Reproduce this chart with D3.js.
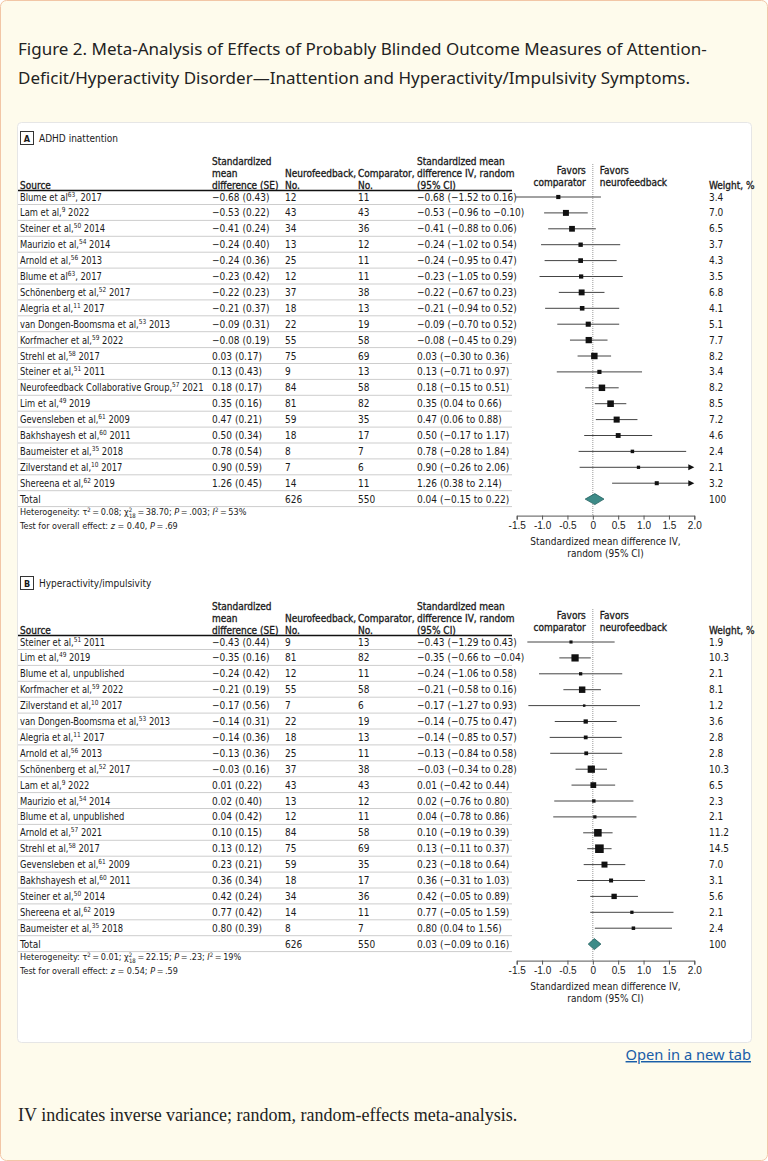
<!DOCTYPE html>
<html>
<head>
<meta charset="utf-8">
<script src="https://cdn.jsdelivr.net/npm/d3@7"></script>
<style>
  html, body { margin: 0; padding: 0; background: #fff; }
  svg { display: block; }
  .tbl { font-family: "Liberation Sans Narrow", "DejaVu Sans Condensed", "DejaVu Sans", sans-serif; font-stretch: condensed; font-size: 10px; fill: #1a1a1a; }
  .hdr { stroke: #1a1a1a; stroke-width: 0.3px; }
</style>
</head>
<body>
<svg width="768" height="1161"></svg>
<script>
// ---- data: panel A, ADHD inattention ----
const srcA = [
  ["Blume et al", "63", ", 2017"], ["Lam et al,", "9", " 2022"], ["Steiner et al,", "50", " 2014"],
  ["Maurizio et al,", "54", " 2014"], ["Arnold et al,", "56", " 2013"], ["Blume et al", "63", ", 2017"],
  ["Schönenberg et al,", "52", " 2017"], ["Alegria et al,", "11", " 2017"], ["van Dongen-Boomsma et al,", "53", " 2013"],
  ["Korfmacher et al,", "59", " 2022"], ["Strehl et al,", "58", " 2017"], ["Steiner et al,", "51", " 2011"],
  ["Neurofeedback Collaborative Group,", "57", " 2021"], ["Lim et al,", "49", " 2019"], ["Gevensleben et al,", "61", " 2009"],
  ["Bakhshayesh et al,", "60", " 2011"], ["Baumeister et al,", "35", " 2018"], ["Zilverstand et al,", "10", " 2017"],
  ["Shereena et al,", "62", " 2019"]
];
const smdA = [-0.68, -0.53, -0.41, -0.24, -0.24, -0.23, -0.22, -0.21, -0.09, -0.08, 0.03, 0.13, 0.18, 0.35, 0.47, 0.50, 0.78, 0.90, 1.26];
const seA = [0.43, 0.22, 0.24, 0.40, 0.36, 0.42, 0.23, 0.37, 0.31, 0.19, 0.17, 0.43, 0.17, 0.16, 0.21, 0.34, 0.54, 0.59, 0.45];
const nfA = [12, 43, 34, 13, 25, 12, 37, 18, 22, 55, 75, 9, 84, 81, 59, 18, 8, 7, 14];
const cmpA = [11, 43, 36, 12, 11, 11, 38, 13, 19, 58, 69, 13, 58, 82, 35, 17, 7, 6, 11];
const loA = [-1.52, -0.96, -0.88, -1.02, -0.95, -1.05, -0.67, -0.94, -0.70, -0.45, -0.30, -0.71, -0.15, 0.04, 0.06, -0.17, -0.28, -0.26, 0.38];
const hiA = [0.16, -0.10, 0.06, 0.54, 0.47, 0.59, 0.23, 0.52, 0.52, 0.29, 0.36, 0.97, 0.51, 0.66, 0.88, 1.17, 1.84, 2.06, 2.14];
const wA = [3.4, 7.0, 6.5, 3.7, 4.3, 3.5, 6.8, 4.1, 5.1, 7.7, 8.2, 3.4, 8.2, 8.5, 7.2, 4.6, 2.4, 2.1, 3.2];
const totalA = {nf: 626, cmp: 550, est: 0.04, lo: -0.15, hi: 0.22, w: 100};
const statsA = {tau2: "0.08", chi2: "38.70", df: "18", p: ".003", i2: "53%", z: "0.40", pz: ".69", sep: ","};

// ---- data: panel B, hyperactivity/impulsivity ----
const srcB = [
  ["Steiner et al,", "51", " 2011"], ["Lim et al,", "49", " 2019"], ["Blume et al, unpublished", "", ""],
  ["Korfmacher et al,", "59", " 2022"], ["Zilverstand et al,", "10", " 2017"], ["van Dongen-Boomsma et al,", "53", " 2013"],
  ["Alegria et al,", "11", " 2017"], ["Arnold et al,", "56", " 2013"], ["Schönenberg et al,", "52", " 2017"],
  ["Lam et al,", "9", " 2022"], ["Maurizio et al,", "54", " 2014"], ["Blume et al, unpublished", "", ""],
  ["Arnold et al,", "57", " 2021"], ["Strehl et al,", "58", " 2017"], ["Gevensleben et al,", "61", " 2009"],
  ["Bakhshayesh et al,", "60", " 2011"], ["Steiner et al,", "50", " 2014"], ["Shereena et al,", "62", " 2019"],
  ["Baumeister et al,", "35", " 2018"]
];
const smdB = [-0.43, -0.35, -0.24, -0.21, -0.17, -0.14, -0.14, -0.13, -0.03, 0.01, 0.02, 0.04, 0.10, 0.13, 0.23, 0.36, 0.42, 0.77, 0.80];
const seB = [0.44, 0.16, 0.42, 0.19, 0.56, 0.31, 0.36, 0.36, 0.16, 0.22, 0.40, 0.42, 0.15, 0.12, 0.21, 0.34, 0.24, 0.42, 0.39];
const nfB = [9, 81, 12, 55, 7, 22, 18, 25, 37, 43, 13, 12, 84, 75, 59, 18, 34, 14, 8];
const cmpB = [13, 82, 11, 58, 6, 19, 13, 11, 38, 43, 12, 11, 58, 69, 35, 17, 36, 11, 7];
const loB = [-1.29, -0.66, -1.06, -0.58, -1.27, -0.75, -0.85, -0.84, -0.34, -0.42, -0.76, -0.78, -0.19, -0.11, -0.18, -0.31, -0.05, -0.05, 0.04];
const hiB = [0.43, -0.04, 0.58, 0.16, 0.93, 0.47, 0.57, 0.58, 0.28, 0.44, 0.80, 0.86, 0.39, 0.37, 0.64, 1.03, 0.89, 1.59, 1.56];
const wB = [1.9, 10.3, 2.1, 8.1, 1.2, 3.6, 2.8, 2.8, 10.3, 6.5, 2.3, 2.1, 11.2, 14.5, 7.0, 3.1, 5.6, 2.1, 2.4];
const totalB = {nf: 626, cmp: 550, est: 0.03, lo: -0.09, hi: 0.16, w: 100};
const statsB = {tau2: "0.01", chi2: "22.15", df: "18", p: ".23", i2: "19%", z: "0.54", pz: ".59", sep: ";"};

const xTicks = [-1.5, -1.0, -0.5, 0, 0.5, 1.0, 1.5, 2.0];

const svg = d3.select("svg");

// page frame
svg.append("rect").attr("x", 0.5).attr("y", 0.5).attr("width", 767).attr("height", 1160)
  .attr("rx", 6).attr("fill", "#fefbec").attr("stroke", "#f2c6a6");

const titleFont = "'Noto Sans', 'Open Sans', sans-serif";
svg.append("text").attr("x", 18).attr("y", 55).attr("font-family", titleFont).attr("font-size", 17).attr("fill", "#222")
  .text("Figure 2. Meta-Analysis of Effects of Probably Blinded Outcome Measures of Attention-");
svg.append("text").attr("x", 18).attr("y", 84).attr("font-family", titleFont).attr("font-size", 17).attr("fill", "#222")
  .text("Deficit/Hyperactivity Disorder—Inattention and Hyperactivity/Impulsivity Symptoms.");

// white figure box
svg.append("rect").attr("x", 17.5).attr("y", 122.5).attr("width", 734).attr("height", 920)
  .attr("rx", 4).attr("fill", "#fff").attr("stroke", "#e6e6e6");

const x = d3.scaleLinear().domain([-1.5, 2.0]).range([516.7, 694.3]);
const size = d3.scaleSqrt().domain([0, 14.5]).range([0, 8.6]);
const fmt2 = d3.format(".2f");
const col = {src: 20, smd: 212, nf: 285, cmp: 358, ci: 417, w: 709, lineEnd: 512};
const thin = "\u2009";

function ciText(e, l, h) { return fmt2(e) + " (" + fmt2(l) + " to " + fmt2(h) + ")"; }

function drawPanel(top, letter, label, src, smd, se, nf, cmp, lo, hi, w, total, st) {
  const g = svg.append("g").attr("class", "tbl");
  const first = top + 59, step = 15.9;
  const y = d3.scaleLinear().domain([0, 1]).range([first, first + step]);
  const n = src.length;
  const yTot = y(n);

  // panel label
  g.append("rect").attr("x", 20.5).attr("y", top - 6.5).attr("width", 13).attr("height", 13)
    .attr("fill", "#fff").attr("stroke", "#333");
  g.append("text").attr("x", 27).attr("y", top + 3.5).attr("text-anchor", "middle")
    .attr("font-size", 9).attr("font-weight", "bold").text(letter);
  g.append("text").attr("x", 39).attr("y", top + 3.5).text(label);

  // column headers
  const h1 = top + 23, h2 = top + 35, h3 = top + 47;
  const heads = [
    [col.src, [[h3, "Source"]]],
    [col.smd, [[h1, "Standardized"], [h2, "mean"], [h3, "difference (SE)"]]],
    [col.nf, [[h2, "Neurofeedback,"], [h3, "No."]]],
    [col.cmp, [[h2, "Comparator,"], [h3, "No."]]],
    [col.ci, [[h1, "Standardized mean"], [h2, "difference IV, random"], [h3, "(95% CI)"]]],
    [col.w, [[h3, "Weight, %"]]]
  ];
  heads.forEach(([cx, lines]) => lines.forEach(([ly, t]) =>
    g.append("text").attr("class", "hdr").attr("x", cx).attr("y", ly + 3.5).text(t)));
  g.append("text").attr("class", "hdr").attr("x", x(0) - 7).attr("y", top + 35.5).attr("text-anchor", "end").text("Favors");
  g.append("text").attr("class", "hdr").attr("x", x(0) - 7).attr("y", top + 47.5).attr("text-anchor", "end").text("comparator");
  g.append("text").attr("class", "hdr").attr("x", x(0) + 7).attr("y", top + 35.5).text("Favors");
  g.append("text").attr("class", "hdr").attr("x", x(0) + 7).attr("y", top + 47.5).text("neurofeedback");

  // rules
  g.append("line").attr("x1", 18).attr("x2", col.lineEnd).attr("y1", top + 52.5).attr("y2", top + 52.5)
    .attr("stroke", "#111").attr("stroke-width", 1.4);
  g.selectAll(".sep").data(d3.range(n + 1)).join("line").attr("class", "sep")
    .attr("x1", 18).attr("x2", col.lineEnd)
    .attr("y1", d => y(d) + 7.5).attr("y2", d => y(d) + 7.5)
    .attr("stroke", "#cdcdcd");

  // zero line
  const axisY = yTot + 16.5;
  g.append("line").attr("x1", x(0)).attr("x2", x(0)).attr("y1", top + 26).attr("y2", axisY)
    .attr("stroke", "#999").attr("stroke-dasharray", "1,1");

  // rows
  const rows = g.selectAll(".row").data(d3.range(n)).join("g").attr("class", "row");
  // source names squeezed a little, the original face is condensed
  const st1 = rows.append("text").attr("class", "src")
    .attr("transform", i => `translate(${col.src},${y(i) + 3.5}) scale(0.93,1)`);
  st1.append("tspan").text(i => src[i][0]);
  st1.append("tspan").attr("font-size", 7).attr("dy", -4).text(i => src[i][1]);
  st1.append("tspan").attr("dy", i => src[i][1] ? 4 : 0).text(i => src[i][2]);
  rows.append("text").attr("x", col.smd).attr("y", i => y(i) + 3.5).text(i => fmt2(smd[i]) + " (" + fmt2(se[i]) + ")");
  rows.append("text").attr("x", col.nf).attr("y", i => y(i) + 3.5).text(i => nf[i]);
  rows.append("text").attr("x", col.cmp).attr("y", i => y(i) + 3.5).text(i => cmp[i]);
  rows.append("text").attr("x", col.ci).attr("y", i => y(i) + 3.5).text(i => ciText(smd[i], lo[i], hi[i]));
  rows.append("text").attr("x", col.w).attr("y", i => y(i) + 3.5).text(i => d3.format(".1f")(w[i]));

  // CI lines and arrows
  const xmax = x.domain()[1];
  rows.append("line")
    .attr("x1", i => x(lo[i])).attr("x2", i => x(Math.min(hi[i], xmax)) - (hi[i] > xmax ? 4 : 0))
    .attr("y1", i => y(i)).attr("y2", i => y(i))
    .attr("stroke", "#444").attr("stroke-width", 1);
  rows.filter(i => hi[i] > xmax).append("path")
    .attr("d", i => `M${x(xmax)},${y(i)}L${x(xmax) - 6},${y(i) - 3}L${x(xmax) - 6},${y(i) + 3}Z`)
    .attr("fill", "#111");
  rows.append("rect")
    .attr("x", i => x(smd[i]) - size(w[i]) / 2).attr("y", i => y(i) - size(w[i]) / 2)
    .attr("width", i => size(w[i])).attr("height", i => size(w[i]))
    .attr("fill", "#111");

  // total row
  g.append("text").attr("x", col.src).attr("y", yTot + 3.5).text("Total");
  g.append("text").attr("x", col.nf).attr("y", yTot + 3.5).text(total.nf);
  g.append("text").attr("x", col.cmp).attr("y", yTot + 3.5).text(total.cmp);
  g.append("text").attr("x", col.ci).attr("y", yTot + 3.5).text(ciText(total.est, total.lo, total.hi));
  g.append("text").attr("x", col.w).attr("y", yTot + 3.5).text(total.w);
  g.append("path")
    .attr("d", `M${x(total.lo)},${yTot}L${x(total.est)},${yTot - 5.5}L${x(total.hi)},${yTot}L${x(total.est)},${yTot + 5.5}Z`)
    .attr("fill", "#3d8b88").attr("stroke", "#24615f").attr("stroke-width", 0.8);

  // heterogeneity / overall effect
  const ht = g.append("text").attr("x", col.src).attr("y", yTot + 16).attr("font-size", 9);
  ht.append("tspan").text("Heterogeneity: τ");
  ht.append("tspan").attr("font-size", 6).attr("dy", -3.5).text("2");
  ht.append("tspan").attr("dy", 3.5).text(thin + "=" + thin + st.tau2 + "; χ");
  ht.append("tspan").attr("font-size", 6).attr("dy", -3.5).text("2");
  ht.append("tspan").attr("font-size", 6).attr("dx", -3.3).attr("dy", 6).text(st.df);
  ht.append("tspan").attr("dy", -2.5).text(thin + "=" + thin + st.chi2 + "; ");
  ht.append("tspan").attr("font-style", "italic").text("P");
  ht.append("tspan").text(thin + "=" + thin + st.p + "; ");
  ht.append("tspan").attr("font-style", "italic").text("I");
  ht.append("tspan").attr("font-size", 6).attr("dy", -3.5).text("2");
  ht.append("tspan").attr("dy", 3.5).text(thin + "=" + thin + st.i2);
  const tt = g.append("text").attr("x", col.src).attr("y", yTot + 30).attr("font-size", 9);
  tt.append("tspan").text("Test for overall effect: ");
  tt.append("tspan").attr("font-style", "italic").text("z");
  tt.append("tspan").text(" = " + st.z + st.sep + " ");
  tt.append("tspan").attr("font-style", "italic").text("P");
  tt.append("tspan").text(thin + "=" + thin + st.pz);

  // axis
  const ax = g.append("g").attr("transform", `translate(0,${axisY})`)
    .call(d3.axisBottom(x).tickValues(xTicks).tickSize(4)
      .tickFormat(d => d === 0 ? "0" : d3.format(".1f")(d).replace("−", "-")));
  ax.selectAll("text").attr("font-family", null).attr("font-size", 10).attr("fill", "#1a1a1a").attr("dy", "0.6em");
  ax.selectAll("line, path").attr("stroke", "#555");
  const mid = (x.range()[0] + x.range()[1]) / 2;
  g.append("text").attr("x", mid).attr("y", axisY + 29).attr("text-anchor", "middle").text("Standardized mean difference IV,");
  g.append("text").attr("x", mid).attr("y", axisY + 41).attr("text-anchor", "middle").text("random (95% CI)");
}

drawPanel(138, "A", "ADHD inattention", srcA, smdA, seA, nfA, cmpA, loA, hiA, wA, totalA, statsA);
drawPanel(583, "B", "Hyperactivity/impulsivity", srcB, smdB, seB, nfB, cmpB, loB, hiB, wB, totalB, statsB);

// link and footnote
svg.append("text").attr("x", 751).attr("y", 1060).attr("text-anchor", "end")
  .attr("font-family", titleFont).attr("font-size", 14.7).attr("fill", "#1a5ea8")
  .attr("text-decoration", "underline").text("Open in a new tab");
svg.append("text").attr("x", 18).attr("y", 1121)
  .attr("font-family", "'Liberation Serif', 'DejaVu Serif', serif").attr("font-size", 18).attr("fill", "#222")
  .text("IV indicates inverse variance; random, random-effects meta-analysis.");
</script>
</body>
</html>
